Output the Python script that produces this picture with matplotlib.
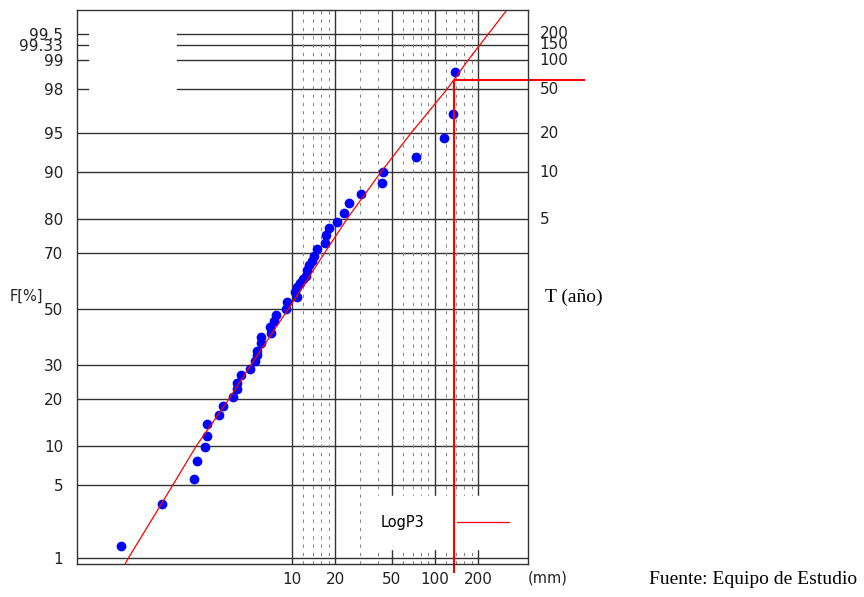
import math

import numpy as np
import matplotlib
matplotlib.use("Agg")
import matplotlib.pyplot as plt
from matplotlib.lines import Line2D
from matplotlib.ticker import NullLocator
from matplotlib.transforms import blended_transform_factory

# observed annual maxima (mm) and their plotting positions F[%]
obs_mm = [0.634, 1.227, 2.05, 2.17, 2.47, 2.56, 2.56, 3.10, 3.29, 3.85,
          4.14, 4.11, 4.38, 5.09, 5.51, 5.72, 5.69, 6.04, 6.04, 7.10,
          7.02, 7.48, 7.73, 9.08, 9.23, 10.75, 10.49, 10.79, 11.37, 12.0,
          12.53, 12.79, 13.21, 13.73, 14.25, 15.03, 17.02, 17.29, 18.23, 20.54,
          23.1, 25.2, 30.2, 42.8, 43.5, 73.6, 115, 134, 138]
obs_F = [1.34, 3.41, 5.56, 7.8, 9.9, 11.8, 14.1, 16.0, 18.3, 20.6,
         22.6, 24.5, 26.9, 28.7, 31.3, 33.4, 34.9, 37.4, 39.5, 41.2,
         43.3, 45.6, 47.6, 50.0, 52.6, 54.5, 56.4, 58.0, 59.5, 60.9,
         62.1, 64.2, 66.0, 67.4, 69.0, 71.2, 73.1, 75.6, 77.5, 79.3,
         81.6, 83.9, 85.9, 88.1, 90.0, 92.3, 94.5, 96.6, 98.66]

# LogP3 fitted curve
fit_F = [0.854, 1, 5, 10, 20, 30, 50, 70, 80, 90, 95, 98, 99, 99.742]
fit_mm = [0.68, 0.72, 1.47, 2.14, 3.62, 5.15, 9.42, 16.9, 24.2, 41.9,
          67.9, 121, 170, 318]
fit_label = "LogP3"

# design value marker
design_mm = 136
design_F = 98.39
design_low_F = 0.676
design_far_mm = 1119

# axis labels
left_ticks = [1, 5, 10, 20, 30, 50, 70, 80, 90, 95, 98, 99, 99.33, 99.5]
left_labels = ["1", "5", "10", "20", "30", "50", "70", "80", "90", "95",
               "98", "99", "99.33", "99.5"]
right_ticks = [80, 90, 95, 98, 99, 99.33, 99.5]
right_labels = ["5", "10", "20", "50", "100", "150", "200"]
x_ticks = [10, 20, 50, 100, 200]
x_labels = ["10", "20", "50", "100", "200"]

full_rows = [1, 5, 10, 20, 30, 50, 70, 80, 90, 95]
short_rows = [98, 99, 99.33, 99.5]
major_cols = [10, 20, 50, 100, 200]
minor_cols = [12, 14, 16, 18, 30, 40, 60, 70, 80, 90, 120, 140, 160, 180]

_erf = np.vectorize(math.erf, otypes=[float])


def cdf_pct(z):
    return 50.0 * (1.0 + _erf(np.asarray(z, float) / math.sqrt(2)))


def ppf_pct(p):
    p = np.clip(np.asarray(p, float), 1e-9, 100 - 1e-9)
    lo = np.full(p.shape, -9.0)
    hi = np.full(p.shape, 9.0)
    for _ in range(55):
        mid = 0.5 * (lo + hi)
        below = cdf_pct(mid) < p
        lo = np.where(below, mid, lo)
        hi = np.where(below, hi, mid)
    return 0.5 * (lo + hi)


gothic = ["Liberation Sans Narrow", "DejaVu Sans"]
serif = ["Liberation Serif", "DejaVu Serif"]
dark = "#333333"
ink = "#222222"

fig = plt.figure(figsize=(8.64, 5.97), dpi=100)
ax = fig.add_axes([77 / 864, 33 / 597, 451 / 864, 554 / 597])

ax.set_xscale("log")
ax.set_yscale("function", functions=(ppf_pct, cdf_pct))
ax.set_xlim(0.3136, 447)
ax.set_ylim(0.854, 99.742)

# grid
for f in full_rows:
    ax.axhline(f, color=dark, lw=1.0, zorder=1)
for f in short_rows:
    ax.axhline(f, xmin=0.2217, xmax=1, color=dark, lw=1.0, zorder=1)
    ax.axhline(f, xmin=0, xmax=0.0244, color=dark, lw=1.0, zorder=1)
for v in major_cols:
    ax.axvline(v, color=dark, lw=1.0, zorder=1)
for v in minor_cols:
    ax.axvline(v, color="#888888", lw=0.75, ls=(0, (3.2, 4.8)), zorder=1)

ax.plot(obs_mm, obs_F, "o", color="#0000ff", ms=6, mec="#0000ff", zorder=3)
fit_line, = ax.plot(fit_mm, fit_F, color="red", lw=0.9, zorder=4)

ax.plot([design_mm, design_mm], [design_F, design_low_F], color="red",
        lw=1.5, clip_on=False, zorder=6, solid_capstyle="butt")
ax.plot([design_mm, design_far_mm], [design_F, design_F], color="red",
        lw=1.5, clip_on=False, zorder=6, solid_capstyle="butt")

leg = ax.legend([Line2D([], [], color="red", lw=0.9)], [fit_label],
                loc="center", bbox_to_anchor=(0.816, 0.0749),
                markerfirst=False, frameon=True, fancybox=False,
                framealpha=1, facecolor="white", edgecolor="white",
                handlelength=3.6, handletextpad=2.2, borderpad=1.3,
                prop={"family": gothic, "size": 10.5})
leg.set_zorder(5)

# ticks
ax.set_yticks(left_ticks)
ax.set_yticklabels(left_labels)
ax.set_xticks(x_ticks)
ax.set_xticklabels(x_labels)
ax.xaxis.set_minor_locator(NullLocator())
ax.yaxis.set_minor_locator(NullLocator())
ax.tick_params(axis="y", length=0, pad=10, labelsize=11, colors=ink)
ax.tick_params(axis="x", length=0, pad=6, labelsize=11, colors=ink)
for lab in ax.get_xticklabels() + ax.get_yticklabels():
    lab.set_family(gothic)

trans = blended_transform_factory(ax.transAxes, ax.transData)
for f, lab in zip(right_ticks, right_labels):
    ax.annotate(lab, xy=(1, f), xycoords=trans, xytext=(8.5, 0),
                textcoords="offset points", ha="left", va="center",
                fontsize=11, family=gothic, color=ink)

for sp in ax.spines.values():
    sp.set_color(dark)
    sp.set_linewidth(1.0)
    sp.set_zorder(7)

fig.text(26 / 864, 1 - 296 / 597, "F[%]", ha="center", va="center",
         fontsize=10.5, family=gothic, color=ink)
fig.text(548 / 864, 1 - 578 / 597, "(mm)", ha="center", va="center",
         fontsize=10.5, family=gothic, color=ink)
fig.text(574 / 864, 1 - 297 / 597, "T (año)", ha="center", va="center",
         fontsize=14, family=serif, color="black")
fig.text(753 / 864, 1 - 580 / 597, "Fuente: Equipo de Estudio", ha="center",
         va="center", fontsize=14, family=serif, color="black")

fig.savefig("out.png", dpi=100, facecolor="white")
